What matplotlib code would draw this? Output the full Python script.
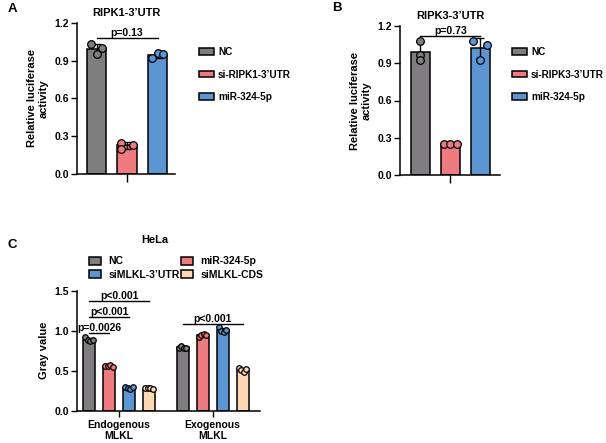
import numpy as np
import matplotlib
matplotlib.use("Agg")
import matplotlib.pyplot as plt

plt.rcParams['font.family'] = ['Liberation Sans', 'DejaVu Sans']
plt.rcParams['font.weight'] = 'bold'
plt.rcParams['axes.labelweight'] = 'bold'

# ---------------- data ----------------
groups_a = ["NC", "si-RIPK1-3\u2019UTR", "miR-324-5p"]
groups_b = ["NC", "si-RIPK3-3\u2019UTR", "miR-324-5p"]
a_points = [[1.03, 1.00, 0.95], [0.25, 0.23, 0.20], [0.92, 0.96, 0.95]]
b_points = [[1.08, 0.97, 0.93], [0.25, 0.25, 0.25], [1.08, 1.05, 0.93]]
a_sig = ("p=0.13", 0, 2, 1.083)
b_sig = ("p=0.73", 0, 2, 1.122)
ab_yticks = [0.0, 0.3, 0.6, 0.9, 1.2]

c_series = ["NC", "miR-324-5p", "siMLKL-3\u2019UTR", "siMLKL-CDS"]
c_groups = ["Endogenous\nMLKL", "Exogenous\nMLKL"]
c_points = {
    "NC": [[0.92, 0.88, 0.87, 0.89], [0.79, 0.81, 0.79, 0.78]],
    "miR-324-5p": [[0.56, 0.56, 0.57, 0.55], [0.92, 0.95, 0.96, 0.95]],
    "siMLKL-3\u2019UTR": [[0.30, 0.28, 0.27, 0.30], [1.05, 1.00, 0.99, 1.01]],
    "siMLKL-CDS": [[0.28, 0.28, 0.28, 0.27], [0.54, 0.51, 0.49, 0.52]],
}
# (text, group, series1, series2, y)
c_sigs = [("p=0.0026", 0, 0, 1, 0.97), ("p<0.001", 0, 0, 2, 1.17),
          ("p<0.001", 0, 0, 3, 1.375), ("p<0.001", 1, 0, 3, 1.09)]
c_yticks = [0.0, 0.5, 1.0, 1.5]

# ---------------- style ----------------
colors = ["#807d80", "#ee7b80", "#5b96d3", "#fcd8b3"]
# horizontal scatter of the dots, as a fraction of bar width
jit_a = [[-0.3, 0.3, 0.0], [-0.33, 0.31, -0.33], [-0.3, 0.0, 0.3]]
jit_b = [[0.0, 0.0, 0.0], [-0.33, 0.0, 0.33], [-0.37, 0.37, 0.0]]
jit4 = [-0.3, -0.1, 0.1, 0.3]

W, H = 606, 443
fig = plt.figure(figsize=(W / 100, H / 100), dpi=100)


def px_axes(l, t, r, b):
    return fig.add_axes([l / W, 1 - b / H, (r - l) / W, (b - t) / H])


def style_axes(ax):
    for s in ["top", "right"]:
        ax.spines[s].set_visible(False)
    for s in ["left", "bottom"]:
        ax.spines[s].set_linewidth(1.1)
    ax.tick_params(axis='both', width=1.0, length=4, labelsize=7.5, pad=2)
    for lab in ax.get_yticklabels():
        lab.set_fontweight('bold')


def draw_bars(ax, xs, pts_list, cols, width, jits, ms):
    conts = []
    for x, pts, c, jit in zip(xs, pts_list, cols, jits):
        pts = np.array(pts)
        m = pts.mean()
        sd = pts.std(ddof=1)
        bc = ax.bar(x, m, width=width, color=c, edgecolor='black', linewidth=1.1, zorder=2)
        conts.append(bc)
        ax.errorbar(x, m, yerr=sd, fmt='none', ecolor='black', elinewidth=1.0,
                    capsize=3, capthick=1.0, zorder=3)
        offs = np.array(jit[:len(pts)]) * width
        ax.scatter(x + offs, pts, s=ms, color=c, edgecolor='black', linewidth=0.9,
                   zorder=4, clip_on=False)
    return conts


def sig(ax, x1, x2, y, text, fs=7.5):
    ax.plot([x1, x2], [y, y], color='black', lw=1.0, clip_on=False, zorder=5)
    ax.text((x1 + x2) / 2, y, text, ha='center', va='bottom', fontsize=fs,
            fontweight='bold')


leg_kw = dict(frameon=False, handlelength=1.45, handleheight=0.65, handletextpad=0.45,
              labelspacing=1.25, prop={'weight': 'bold', 'size': 7.2})


def luciferase_panel(box, pts, names, jits, width, xlim, title, sigd, leg_x, letter, letter_xy):
    ax = px_axes(*box)
    xs = np.arange(len(pts))
    cont = draw_bars(ax, xs, pts, colors[:3], width, jits, 30)
    ax.set_xlim(*xlim)
    ax.set_ylim(0, 1.2)
    ax.set_yticks(ab_yticks)
    ax.set_yticklabels([f"{v:.1f}" for v in ab_yticks])
    ax.set_xticks([1])
    ax.set_xticklabels([""])
    style_axes(ax)
    ax.tick_params(axis='x', length=6)
    ax.set_ylabel("Relative luciferase\nactivity", fontsize=8, fontweight='bold', labelpad=4)
    ax.set_title(title, fontsize=8, fontweight='bold', pad=5)
    sig(ax, xs[sigd[1]], xs[sigd[2]], sigd[3], sigd[0])
    fig.legend([c[0] for c in cont], names, loc='upper left',
               bbox_to_anchor=(leg_x / W, 1 - 38 / H), **leg_kw)
    fig.text(letter_xy[0] / W, 1 - letter_xy[1] / H, letter, fontsize=9.5,
             fontweight='bold', va='center', ha='left')
    return ax


luciferase_panel((77, 23, 175, 174), a_points, groups_a, jit_a, 0.64, (-0.64, 2.57),
                 "RIPK1-3\u2019UTR", a_sig, 190, "A", (8, 9))
luciferase_panel((400, 26, 500, 175), b_points, groups_b, jit_b, 0.63, (-0.68, 2.65),
                 "RIPK3-3\u2019UTR", b_sig, 503, "B", (332, 8))

# ---------------- Panel C ----------------
axC = px_axes(77, 290.7, 260, 410.7)
gap = 4.675
bw = 0.6
contC = {}
for si, name in enumerate(c_series):
    xpos = np.arange(len(c_groups)) * gap + si
    cs = draw_bars(axC, xpos, c_points[name], [colors[si]] * len(c_groups), bw,
                   [jit4] * len(c_groups), 16)
    contC[name] = cs[0]
axC.set_xlim(-0.6, 8.55)
axC.set_ylim(0, 1.5)
axC.set_yticks(c_yticks)
axC.set_yticklabels([f"{v:.1f}" for v in c_yticks])
axC.set_xticks(np.arange(len(c_groups)) * gap + 1.5)
axC.set_xticklabels(c_groups, linespacing=1.05)
style_axes(axC)
for lab in axC.get_xticklabels():
    lab.set_fontweight('bold')
    lab.set_fontsize(7.5)
axC.tick_params(axis='x', length=4, pad=3)
axC.set_ylabel("Gray value", fontsize=8, fontweight='bold', labelpad=4)
for text, g, s1, s2, y in c_sigs:
    sig(axC, g * gap + s1, g * gap + s2, y, text)
order = ["NC", "siMLKL-3\u2019UTR", "miR-324-5p", "siMLKL-CDS"]
fig.legend([contC[n] for n in order], order, loc='upper left', ncol=2,
           bbox_to_anchor=(80 / W, 1 - 247 / H), frameon=False,
           handlelength=1.15, handleheight=0.8, handletextpad=0.7, labelspacing=0.3,
           columnspacing=0.1, prop={'weight': 'bold', 'size': 7.5})
fig.text(155 / W, 1 - 240 / H, "HeLa", fontsize=8, fontweight='bold', ha='center', va='center')
fig.text(8 / W, 1 - 245 / H, "C", fontsize=9.5, fontweight='bold', va='center', ha='left')

fig.savefig("out.png", dpi=100)
